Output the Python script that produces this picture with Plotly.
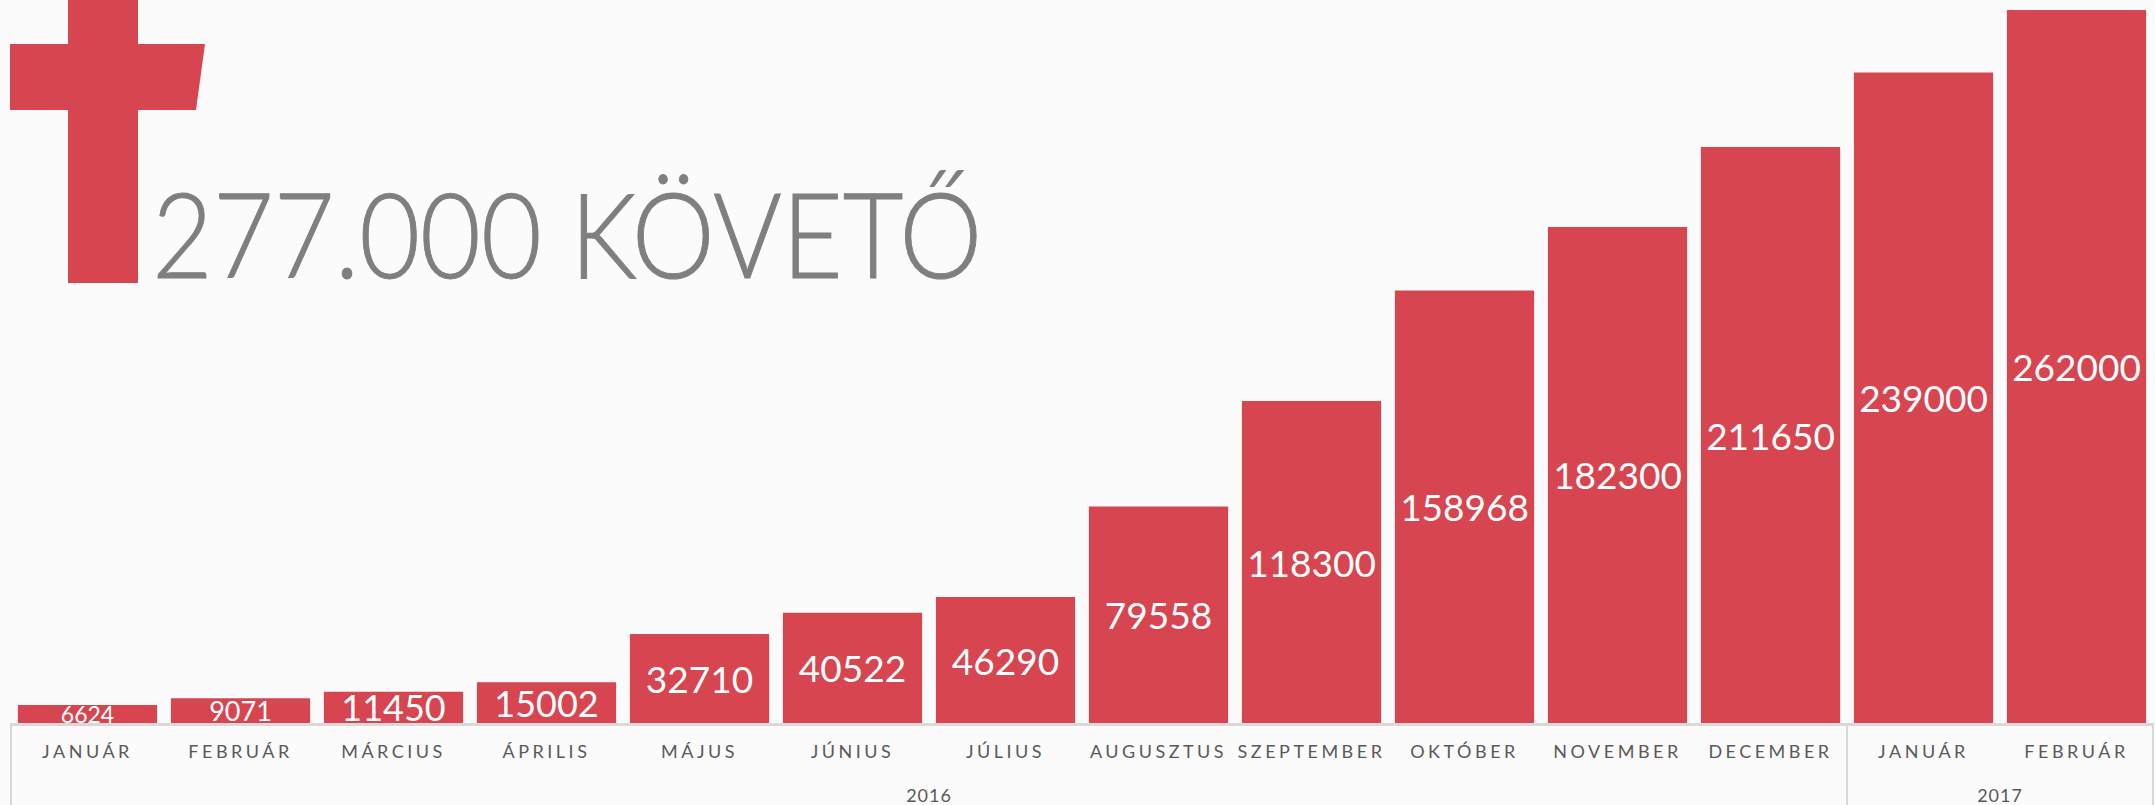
import plotly.graph_objects as go

months = ["JANUÁR", "FEBRUÁR", "MÁRCIUS", "ÁPRILIS", "MÁJUS", "JÚNIUS", "JÚLIUS", "AUGUSZTUS",
          "SZEPTEMBER", "OKTÓBER", "NOVEMBER", "DECEMBER", "JANUÁR", "FEBRUÁR"]
years = ["2016"] * 12 + ["2017"] * 2
followers = [6624, 9071, 11450, 15002, 32710, 40522, 46290, 79558, 118300, 158968, 182300, 211650, 239000, 262000]
label_sizes = [23, 27, 36, 36, 37, 37, 37, 37, 37, 37, 37, 37, 37, 37]

W, H = 2155, 805
ML, MR, MT, MB = 11, 2, 0, 82
FONT = "Lato"
RED = "#D64550"
GREY = "#7F7F7F"
LINE = "#D9D9D9"

def fx(x):
    return (x - ML) / (W - ML - MR)

def fy(y):
    return 1 - (y - MT) / (H - MT - MB)

cross = [(68, 0), (138, 0), (138, 44), (205, 44), (196, 110), (138, 110), (138, 283), (68, 283), (68, 110), (10, 110), (10, 44), (68, 44)]
path = "M" + " L".join(f"{fx(x):.5f} {fy(y):.5f}" for x, y in cross) + " Z"

fig = go.Figure(go.Bar(
    x=[years, months], y=followers,
    marker=dict(color=RED, line=dict(width=0)),
    text=[str(v) for v in followers], textposition="inside", insidetextanchor="middle",
    textangle=0, constraintext="none",
    textfont=dict(family=FONT, color="white", size=label_sizes),
    cliponaxis=True, hoverinfo="skip",
))
fig.add_annotation(text="277.000 KÖVETŐ", xref="paper", yref="paper", x=fx(150),
                   y=fy(305), xanchor="left", yanchor="bottom", showarrow=False,
                   font=dict(family=FONT, size=119, color=GREY, weight=300))

dividers = [0, years.count("2016") / len(years), 1]
shapes = [dict(type="path", xref="paper", yref="paper", path=path, fillcolor=RED, line=dict(width=0), layer="above")]
shapes += [dict(type="line", xref="paper", yref="paper", x0=d, x1=d, y0=0, y1=-MB / (H - MT - MB),
                line=dict(color=LINE, width=2)) for d in dividers]

fig.update_layout(
    width=W, height=H, autosize=False, margin=dict(l=ML, r=MR, t=MT, b=MB), bargap=0.09,
    paper_bgcolor="#FBFBFB", plot_bgcolor="#FBFBFB", showlegend=False, shapes=shapes,
    xaxis=dict(type="multicategory", showline=True, linecolor=LINE, linewidth=3, ticks="", showdividers=False,
               tickfont=dict(family=FONT, size=18, color="#595959")),
    yaxis=dict(range=[0, 265670], visible=False, showgrid=False),
)
css = """
body{margin:0;overflow:hidden}
.xtick text{letter-spacing:3.5px}
.xtick2 text{letter-spacing:1px}
.annotation-text{transform-box:fill-box;transform-origin:left center;transform:scaleX(.882);stroke:#7F7F7F;stroke-width:1px}
"""
post = (
    "var s=document.createElement('style');s.textContent=" + repr(css) + ";document.head.appendChild(s);"
    "function shift(sel,d){document.querySelectorAll(sel).forEach(function(t){t.setAttribute('y',parseFloat(t.getAttribute('y')||0)+d);});}"
    "shift('.xtick text',10);shift('.xtick2 text',30);"
)
fig.write_html("out.html", config=dict(displayModeBar=False), post_script=post)
